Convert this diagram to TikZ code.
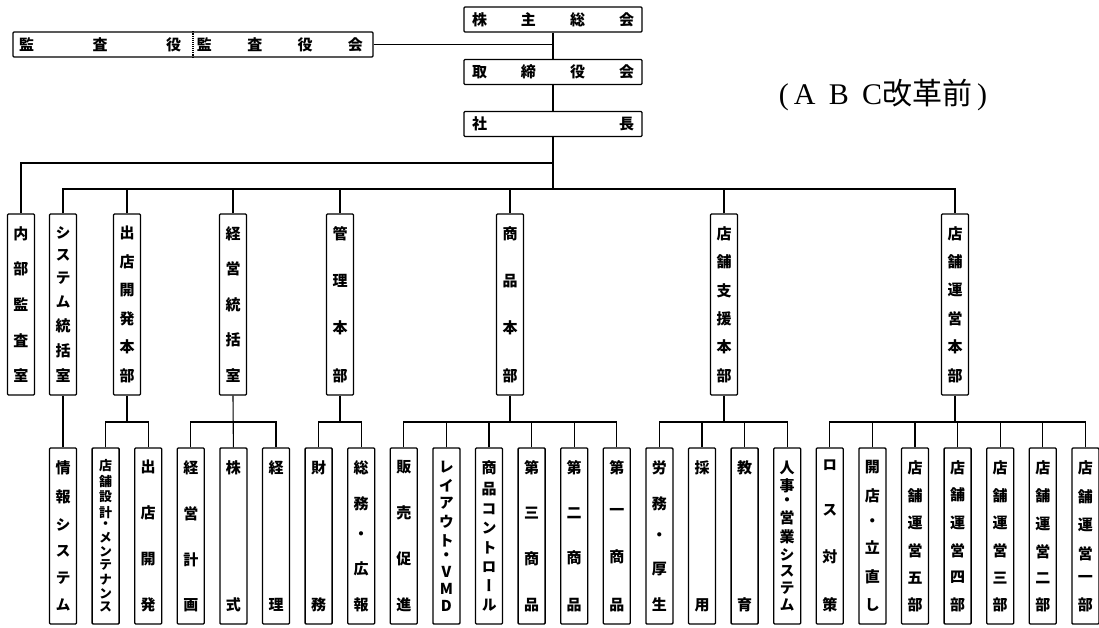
\documentclass[tikz,border=0pt]{standalone}
\usepackage{fontspec}
\usetikzlibrary{positioning}
\newfontfamily\jp[Vertical=Alternates]{Noto Sans CJK JP}
\newfontfamily\jpr{Noto Sans CJK JP}
\newfontfamily\serif{Liberation Serif}

\makeatletter
% characters stacked top to bottom, spread over #1
\newcommand{\tate}[2]{%
  \vbox to #1{\offinterlineskip
    \let\tate@sep\relax
    \@tfor\tate@c:=#2\do{%
      \tate@sep
      \hbox to 1.2em{\hss\tate@c\hss}%
      \let\tate@sep\vfill}}}
% characters spread left to right over #1
\newcommand{\yoko}[2]{%
  \hbox to #1{%
    \let\yoko@sep\relax
    \@tfor\yoko@c:=#2\do{%
      \yoko@sep
      \yoko@c
      \let\yoko@sep\hfill}}}
\makeatother

\begin{document}
\begin{tikzpicture}[
                x=1pt, y=-1pt,
                box/.style={
                    draw,
                    line width=1.3pt,
                    rounded corners=1pt,
                    inner sep=0pt,
                    font=\jp\bfseries\fontsize{15pt}{15pt}\selectfont
                },
                topbox/.style={
                    box,
                    minimum width=178pt,
                    minimum height=25pt
                },
                hqbox/.style={
                    box,
                    minimum width=27pt,
                    minimum height=181pt
                },
                deptbox/.style={
                    box,
                    minimum width=27pt,
                    minimum height=176pt
                },
                line/.style={
                    line width=1.1pt
                }
            ]
                \useasboundingbox (0,0) rectangle (1099,628);

                % top of the company
                \node[topbox] (soukai) at (553,19.5) {\yoko{162pt}{株主総会}};
                \node[topbox] (torishimari) at (553,72) {\yoko{162pt}{取締役会}};
                \node[topbox] (shacho) at (553,124) {\yoko{162pt}{社長}};
                \node[box, minimum width=360pt, minimum height=25pt] (kansa) at (193,44.5)
                    {\hbox to 360pt{\hspace{6pt}\yoko{162pt}{監査役}\hfill\yoko{166pt}{監査役会}\hspace{10pt}}};
                \coordinate (kdiv) at (193,0);
                \draw[line, densely dotted] (kansa.north -| kdiv) -- (kansa.south -| kdiv);

                \node[font=\fontsize{30pt}{30pt}\selectfont] (kaikaku) at (883,95)
                    {\serif(\,A\;\,B\;\,C\jpr 改革前\serif\,)};

                % headquarters
                \node[hqbox] (naibu) at (21,304.5) {\tate{155pt}{内部監査室}};
                \node[hqbox] (system) at (63,304.5) {\tate{155pt}{システム統括室}};
                \node[hqbox] (tenpo) at (127,304.5) {\tate{155pt}{出店開発本部}};
                \node[hqbox] (keiei) at (233,304.5) {\tate{155pt}{経営統括室}};
                \node[hqbox] (kanri) at (340,304.5) {\tate{155pt}{管理本部}};
                \node[hqbox] (shohin) at (510,304.5) {\tate{155pt}{商品本部}};
                \node[hqbox] (shien) at (724,304.5) {\tate{155pt}{店舗支援本部}};
                \node[hqbox] (unei) at (955,304.5) {\tate{155pt}{店舗運営本部}};

                % departments
                \node[deptbox] (joho) at (63,536) {\tate{150pt}{情報システム}};
                \node[deptbox, font=\jp\bfseries\fontsize{13pt}{13pt}\selectfont] (sekkei) at (105.6,536) {\tate{152pt}{店舗設計・メンテナンス}};
                \node[deptbox] (shutten) at (148.2,536) {\tate{150pt}{出店開発}};
                \node[deptbox] (keikaku) at (190.8,536) {\tate{150pt}{経営計画}};
                \node[deptbox] (kabu) at (233.4,536) {\tate{150pt}{株式}};
                \node[deptbox] (keiri) at (276,536) {\tate{150pt}{経理}};
                \node[deptbox] (zaimu) at (318.6,536) {\tate{150pt}{財務}};
                \node[deptbox] (somu) at (361.2,536) {\tate{150pt}{総務・広報}};
                \node[deptbox] (hansoku) at (403.8,536) {\tate{150pt}{販売促進}};
                \node[deptbox] (layout) at (446.4,536) {\tate{150pt}{レイアウト・VMD}};
                \node[deptbox] (control) at (489,536) {\tate{150pt}{商品コントロール}};
                \node[deptbox] (dai3) at (531.6,536) {\tate{150pt}{第三商品}};
                \node[deptbox] (dai2) at (574.2,536) {\tate{150pt}{第二商品}};
                \node[deptbox] (dai1) at (616.8,536) {\tate{150pt}{第一商品}};
                \node[deptbox] (roumu) at (659.4,536) {\tate{150pt}{労務・厚生}};
                \node[deptbox] (saiyo) at (702,536) {\tate{150pt}{採用}};
                \node[deptbox] (kyoiku) at (744.6,536) {\tate{150pt}{教育}};
                \node[deptbox] (jinji) at (787.2,536) {\tate{150pt}{人事・営業システム}};
                \node[deptbox] (loss) at (829.8,536) {\tate{150pt}{ロス対策}};
                \node[deptbox] (kaiten) at (872.4,536) {\tate{150pt}{開店・立直し}};
                \node[deptbox] (unei5) at (915,536) {\tate{150pt}{店舗運営五部}};
                \node[deptbox] (unei4) at (957.6,536) {\tate{150pt}{店舗運営四部}};
                \node[deptbox] (unei3) at (1000.2,536) {\tate{150pt}{店舗運営三部}};
                \node[deptbox] (unei2) at (1042.8,536) {\tate{150pt}{店舗運営二部}};
                \node[deptbox] (unei1) at (1085.4,536) {\tate{150pt}{店舗運営一部}};

                % bus heights
                \coordinate (bus1) at (0,163);
                \coordinate (bus2) at (0,189);
                \coordinate (bus3) at (0,422);

                \draw[line] (soukai) -- (torishimari);
                \draw[line] (torishimari) -- (shacho);
                \draw[line] (kansa.east) -- (kansa.east -| soukai.south);
                \draw[line] (shacho.south) -- (shacho.south |- bus2);
                \draw[line] (naibu.north) |- (shacho.south |- bus1);
                \draw[line] (system.north) |- (unei.north |- bus2) -- (unei.north);
                \draw[line] (tenpo.north) -- (tenpo.north |- bus2);
                \draw[line] (keiei.north) -- (keiei.north |- bus2);
                \draw[line] (kanri.north) -- (kanri.north |- bus2);
                \draw[line] (shohin.north) -- (shohin.north |- bus2);
                \draw[line] (shien.north) -- (shien.north |- bus2);

                \draw[line] (system.south) -- (joho.north);

                \draw[line] (tenpo.south) -- (tenpo.south |- bus3);
                \draw[line] (sekkei.north) |- (shutten.north |- bus3) -- (shutten.north);

                \draw[line] (keiei.south) -- (kabu.north);
                \draw[line] (keikaku.north) |- (keiri.north |- bus3) -- (keiri.north);

                \draw[line] (kanri.south) -- (kanri.south |- bus3);
                \draw[line] (zaimu.north) |- (somu.north |- bus3) -- (somu.north);

                \draw[line] (shohin.south) -- (shohin.south |- bus3);
                \draw[line] (hansoku.north) |- (dai1.north |- bus3) -- (dai1.north);
                \draw[line] (layout.north) -- (layout.north |- bus3);
                \draw[line] (control.north) -- (control.north |- bus3);
                \draw[line] (dai3.north) -- (dai3.north |- bus3);
                \draw[line] (dai2.north) -- (dai2.north |- bus3);

                \draw[line] (shien.south) -- (shien.south |- bus3);
                \draw[line] (roumu.north) |- (jinji.north |- bus3) -- (jinji.north);
                \draw[line] (saiyo.north) -- (saiyo.north |- bus3);
                \draw[line] (kyoiku.north) -- (kyoiku.north |- bus3);

                \draw[line] (unei.south) -- (unei.south |- bus3);
                \draw[line] (loss.north) |- (unei1.north |- bus3) -- (unei1.north);
                \draw[line] (kaiten.north) -- (kaiten.north |- bus3);
                \draw[line] (unei5.north) -- (unei5.north |- bus3);
                \draw[line] (unei4.north) -- (unei4.north |- bus3);
                \draw[line] (unei3.north) -- (unei3.north |- bus3);
                \draw[line] (unei2.north) -- (unei2.north |- bus3);
            \end{tikzpicture}
\end{document}
